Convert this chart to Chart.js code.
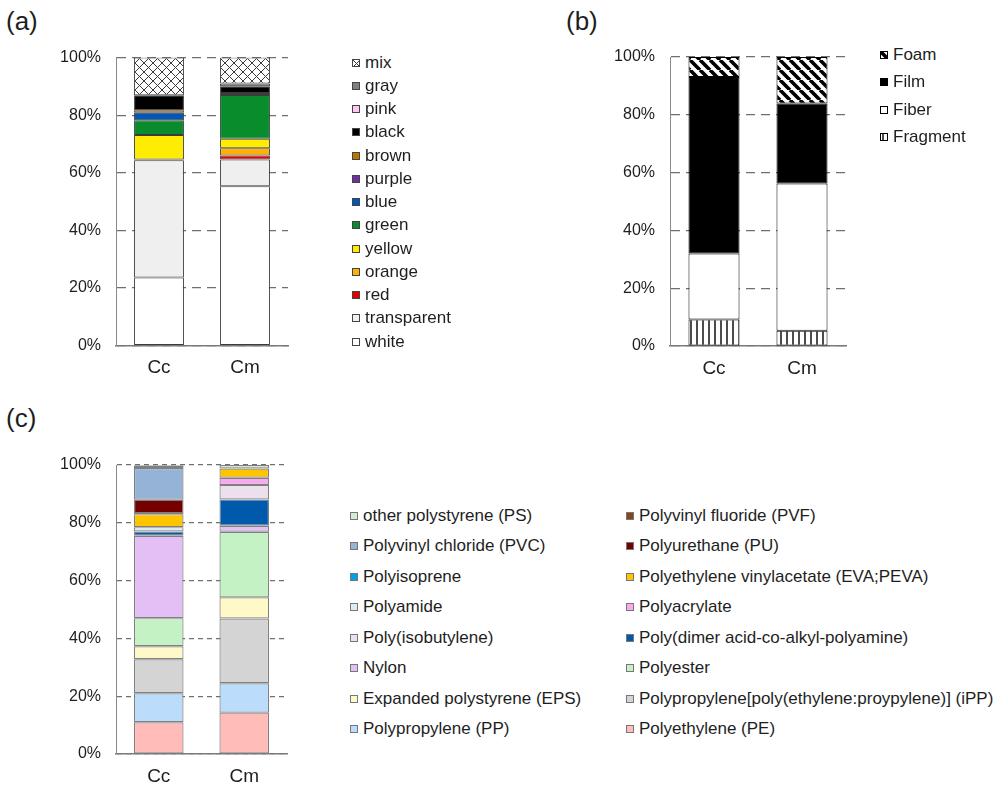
<!DOCTYPE html>
<html>
<head>
<meta charset="utf-8">
<script src="https://cdn.jsdelivr.net/npm/chart.js@4.4.1/dist/chart.umd.min.js"></script>
<style>
  body { margin: 0; background: #fff; font-family: 'Liberation Sans', Arial, sans-serif; color: #1e1e1e; }
  #page { position: relative; width: 993px; height: 789px; overflow: hidden; }
  .tag { position: absolute; font-size: 26px; line-height: 30px; }
  .box { position: absolute; }
  .legend-item { position: absolute; height: 20px; display: flex; align-items: center; white-space: nowrap; font-size: 17px; }
  .legend-item canvas { margin-right: 5px; }
</style>
</head>
<body>
<div id="page">
  <div class="tag" style="left:6px;top:6px">(a)</div>
  <div class="tag" style="left:566px;top:6px">(b)</div>
  <div class="tag" style="left:6px;top:403px">(c)</div>
  <div class="box" style="left:0;top:0;width:300px;height:390px"><canvas id="chart-a"></canvas></div>
  <div class="box" style="left:520px;top:0;width:340px;height:390px"><canvas id="chart-b"></canvas></div>
  <div class="box" style="left:0;top:420px;width:300px;height:369px"><canvas id="chart-c"></canvas></div>
  <div id="legend-a"></div>
  <div id="legend-b"></div>
  <div id="legend-c"></div>
</div>
<script>
const FONT = "'Liberation Sans', Arial, sans-serif";

// ---- data ----
const samples = ['Cc', 'Cm'];
const yTicks = [0, 20, 40, 60, 80, 100];

// (a) colour of particles, % (bottom -> top)
const colourNames = ['white', 'transparent', 'red', 'orange', 'yellow', 'green', 'blue', 'purple', 'brown', 'black', 'pink', 'gray', 'mix'];
const white = [23.6, 55.3];
const transparent = [40.7, 9.3];
const red = [null, 1.4];
const orange = [0.3, 2.5];
const yellow = [8.5, 3.3];
const green = [5.1, 15.2];
const blue = [2.6, 0.7];
const purple = [null, null];
const brown = [0.9, null];
const black = [5.2, 2.3];
const pink = [null, null];
const gray = [null, 1.0];
const mix = [13.1, 9.0];

// (b) shape, % (bottom -> top)
const shapeNames = ['Fragment', 'Fiber', 'Film', 'Foam'];
const fragment = [9.2, 5.3];
const fiber = [22.8, 50.9];
const film = [61.1, 27.7];
const foam = [6.9, 16.1];

// (c) polymer type, % (bottom -> top)
const polymerNames = [
  'Polyethylene (PE)', 'Polypropylene (PP)', 'Polypropylene[poly(ethylene:proypylene)] (iPP)',
  'Expanded polystyrene (EPS)', 'Polyester', 'Nylon', 'Poly(dimer acid-co-alkyl-polyamine)',
  'Poly(isobutylene)', 'Polyacrylate', 'Polyamide', 'Polyethylene vinylacetate (EVA;PEVA)',
  'Polyisoprene', 'Polyurethane (PU)', 'Polyvinyl chloride (PVC)', 'Polyvinyl fluoride (PVF)',
  'other polystyrene (PS)'
];
const pe = [11.0, 14.3];
const pp = [10.0, 10.2];
const ipp = [11.8, 22.4];
const eps = [4.5, 7.3];
const polyester = [9.7, 22.7];
const nylon = [28.5, 2.1];
const polyDimer = [1.5, 9.1];
const polyIsobutylene = [null, 5.0];
const polyacrylate = [null, 2.5];
const polyamide = [1.5, null];
const eva = [4.5, 3.2];
const polyisoprene = [0.35, null];
const pu = [4.6, null];
const pvc = [11.0, null];
const pvf = [0.9, null];
const otherPs = [0.15, 1.2];

// ---- fills ----
function makePattern(kind) {
  const c = document.createElement('canvas');
  const ctx = c.getContext('2d');
  if (kind === 'cross') {
    c.width = 9; c.height = 9;
    ctx.fillStyle = '#fff'; ctx.fillRect(0, 0, 9, 9);
    ctx.strokeStyle = '#3a3a3a'; ctx.lineWidth = 1;
    ctx.beginPath();
    ctx.moveTo(0, 0); ctx.lineTo(9, 9);
    ctx.moveTo(9, 0); ctx.lineTo(0, 9);
    ctx.stroke();
  } else if (kind === 'diag') {
    c.width = 10; c.height = 10;
    ctx.fillStyle = '#fff'; ctx.fillRect(0, 0, 10, 10);
    ctx.strokeStyle = '#000'; ctx.lineWidth = 3.6;
    ctx.beginPath();
    for (const k of [-10, 0, 10]) { ctx.moveTo(k, 0); ctx.lineTo(k + 10, 10); }
    ctx.stroke();
  } else {
    c.width = 6; c.height = 4;
    ctx.fillStyle = '#fff'; ctx.fillRect(0, 0, 6, 4);
    ctx.fillStyle = '#000'; ctx.fillRect(2.3, 0, 1.4, 4);
  }
  return ctx.createPattern(c, 'repeat');
}

const colourFills = ['#ffffff', '#efefef', '#e60000', '#ffb000', '#ffec00', '#088c2c', '#0057b8',
  '#7030a0', '#b87800', '#000000', '#ffc8f4', '#808080', makePattern('cross')];
const shapeFills = [makePattern('vert'), '#ffffff', '#000000', makePattern('diag')];
const polymerFills = ['#ffbcb8', '#bcdcfc', '#d4d4d4', '#fff9c8', '#c4f2c4', '#e3bff6', '#0059ab',
  '#ede0ee', '#f9a9ef', '#dcecf4', '#ffc400', '#00a0e6', '#740000', '#95b3d7', '#86461a', '#d6ead0'];

// ---- charts ----
function buildChart(id, names, values, fills, o) {
  const datasets = names.map((n, i) => ({
    label: n,
    data: values[i],
    backgroundColor: fills[i],
    borderColor: o.edge,
    borderWidth: o.edgeWidth,
    borderSkipped: false,
    categoryPercentage: 1,
    barPercentage: 0.58
  }));
  return new Chart(document.getElementById(id), {
    type: 'bar',
    data: { labels: samples, datasets: datasets },
    options: {
      responsive: true,
      maintainAspectRatio: false,
      animation: false,
      layout: { padding: { top: o.top, right: o.right, left: 0, bottom: 0 } },
      plugins: { legend: { display: false }, tooltip: { enabled: false } },
      scales: {
        x: {
          stacked: true,
          grid: { display: false, drawTicks: false },
          border: { display: true, color: '#7a7a7a', width: 1.5 },
          ticks: { color: '#1e1e1e', font: { size: 19, family: FONT }, padding: 11 },
          afterFit: s => { s.height = o.xh; }
        },
        y: {
          stacked: true,
          min: 0,
          max: 100,
          afterBuildTicks: s => { s.ticks = yTicks.map(v => ({ value: v })); },
          ticks: { color: '#1e1e1e', font: { size: 16, family: FONT }, padding: 15, callback: v => v + '%' },
          grid: { color: '#6f6f6f', lineWidth: 1.2, drawTicks: false },
          border: { display: true, color: '#8a8a8a', width: 1, dash: o.dash },
          afterFit: s => { s.width = o.yw; }
        }
      }
    }
  });
}

buildChart('chart-a', colourNames,
  [white, transparent, red, orange, yellow, green, blue, purple, brown, black, pink, gray, mix],
  colourFills, { edge: '#3c3c3c', edgeWidth: 1, top: 57.5, right: 12, xh: 44.5, yw: 116, dash: [9, 6] });

buildChart('chart-b', shapeNames, [fragment, fiber, film, foam],
  shapeFills, { edge: '#000000', edgeWidth: 1, top: 57, right: 14, xh: 44, yw: 150, dash: [9, 6] });

buildChart('chart-c', polymerNames,
  [pe, pp, ipp, eps, polyester, nylon, polyDimer, polyIsobutylene, polyacrylate, polyamide, eva,
   polyisoprene, pu, pvc, pvf, otherPs],
  polymerFills, { edge: '#808080', edgeWidth: 1.2, top: 45, right: 13, xh: 35, yw: 116, dash: [5, 4] });

// ---- legends (reverse order, like the stacked bars) ----
function swatch(fill, edge) {
  const c = document.createElement('canvas');
  c.width = 8; c.height = 8;
  const ctx = c.getContext('2d');
  ctx.fillStyle = fill; ctx.fillRect(0, 0, 8, 8);
  ctx.strokeStyle = edge; ctx.lineWidth = 1; ctx.strokeRect(0.5, 0.5, 7, 7);
  return c;
}

function buildLegend(hostId, names, fills, edge, cols, x0, colGap, y0, rowGap) {
  const host = document.getElementById(hostId);
  const order = names.map((n, i) => i).reverse();
  order.forEach((idx, k) => {
    const row = Math.floor(k / cols);
    const col = k % cols;
    const item = document.createElement('div');
    item.className = 'legend-item';
    item.style.left = (x0 + col * colGap) + 'px';
    item.style.top = (y0 + row * rowGap - 10) + 'px';
    item.appendChild(swatch(fills[idx], edge));
    const span = document.createElement('span');
    span.textContent = names[idx];
    item.appendChild(span);
    host.appendChild(item);
  });
}

buildLegend('legend-a', colourNames, colourFills, '#444', 1, 352, 0, 62.7, 23.25);
buildLegend('legend-b', shapeNames, shapeFills, '#000', 1, 880, 0, 55, 27.4);
buildLegend('legend-c', polymerNames, polymerFills, '#777', 2, 350, 276, 515.7, 30.5);
</script>
</body>
</html>
